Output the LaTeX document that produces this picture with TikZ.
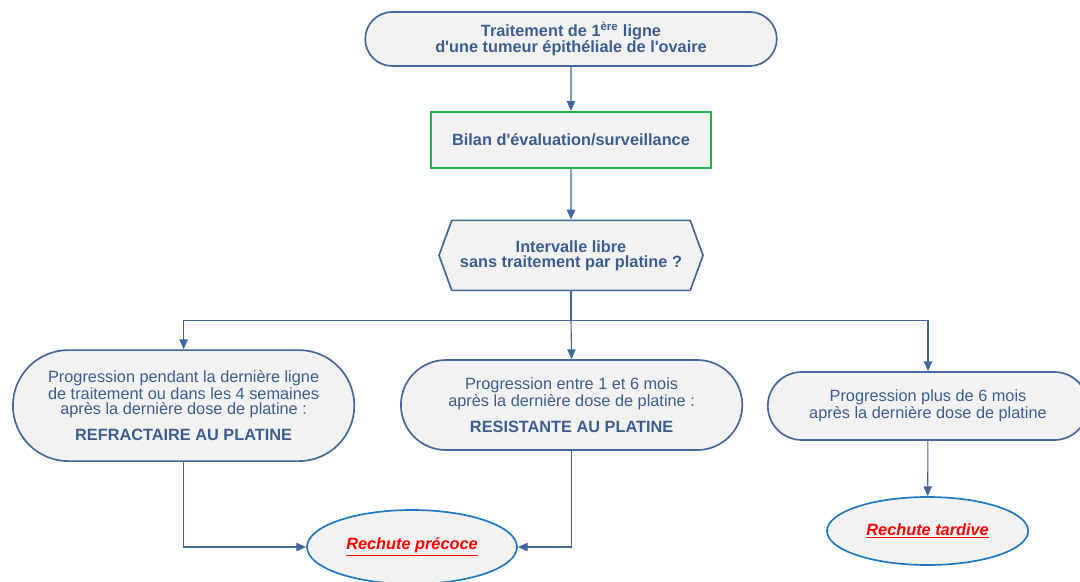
\documentclass[tikz,border=0pt]{standalone}
\usepackage{fontspec}
\setmainfont{Liberation Sans}
\usepackage{tikz}
\usetikzlibrary{positioning,calc,arrows.meta,shapes.misc,shapes.symbols,shapes.geometric}
\definecolor{txtblue}{RGB}{59,93,143}
\definecolor{lineblue}{RGB}{65,103,155}
\definecolor{boxgreen}{RGB}{30,177,76}
\definecolor{ovalblue}{RGB}{31,120,192}
\definecolor{boxgray}{RGB}{242,242,242}
\newcommand{\rechute}[1]{\textcolor{red}{\underline{\textbf{\textit{#1}}}}}
\newcommand{\apos}{\textquotesingle}

\tikzset{
	base/.style={draw=lineblue, line width=1.2pt, fill=boxgray, text=txtblue, align=center, inner sep=2pt},
	stade/.style={base, rounded rectangle},
	bilan/.style={base, draw=boxgreen, rectangle},
	question/.style={base, signal, signal to=east and west, signal pointer angle=140},
	issue/.style={base, draw=ovalblue, ellipse},
}

\begin{document}
\begin{tikzpicture}[>={Triangle[length=7pt,width=6pt]},font=\fontsize{11.6}{10.6}\selectfont]
		\useasboundingbox (0,0) rectangle (27,-14.525);

		\node[stade, minimum width=10.43cm, minimum height=1.35cm] (ligne1) at (14.275,-0.975)
			{\textbf{Traitement de 1\textsuperscript{ère} ligne}\\\textbf{d\apos une tumeur épithéliale de l\apos ovaire}};
		\node[bilan, minimum width=7cm, minimum height=1.4cm, below=1.1cm of ligne1] (bilan)
			{\textbf{Bilan d\apos évaluation/surveillance}};
		\node[question, minimum width=6.6cm, minimum height=1.75cm, below=1.275cm of bilan] (itf)
			{\textbf{Intervalle libre}\\\textbf{sans traitement par platine ?}};

		\coordinate (fork) at ($(itf.south)+(0,-0.725)$);

		\node[stade, minimum width=8.675cm, minimum height=2.775cm] (refr) at (4.59,-10.14) {
			Progression pendant la dernière ligne\\
			de traitement ou dans les 4 semaines\\
			après la dernière dose de platine :\\[8pt]
			\textbf{REFRACTAIRE AU PLATINE}
		};
		\node[stade, minimum width=8.675cm, minimum height=2.25cm] (resist) at (14.29,-10.125) {
			Progression entre 1 et 6 mois\\
			après la dernière dose de platine :\\[8pt]
			\textbf{RESISTANTE AU PLATINE}
		};
		\node[stade, minimum width=8.15cm, minimum height=1.7cm] (sensible) at (23.2,-10.15) {
			Progression plus de 6 mois\\
			après la dernière dose de platine
		};

		\node[issue, minimum width=5.25cm, minimum height=1.85cm] (precoce) at (10.3,-13.675)
			{\rechute{Rechute précoce}};
		\node[issue, minimum width=5.03cm, minimum height=1.7cm] (tardive) at (23.19,-13.275)
			{\rechute{Rechute tardive}};

		\begin{scope}[draw=lineblue, line width=0.8pt]
			\path[->]
				(ligne1) edge (bilan)
				(bilan) edge (itf)
			;
			\draw (itf.south) -- (fork);
			\draw[->] (fork) -| (refr.north);
			\draw[->] (fork) -- (resist.north);
			\draw[->] (fork) -| (sensible.north);
			\draw[->] (refr.south) |- (precoce.west);
			\draw[->] (resist.south) |- (precoce.east);
			\draw[->] (sensible) -- (tardive);
		\end{scope}
	\end{tikzpicture}
\end{document}
